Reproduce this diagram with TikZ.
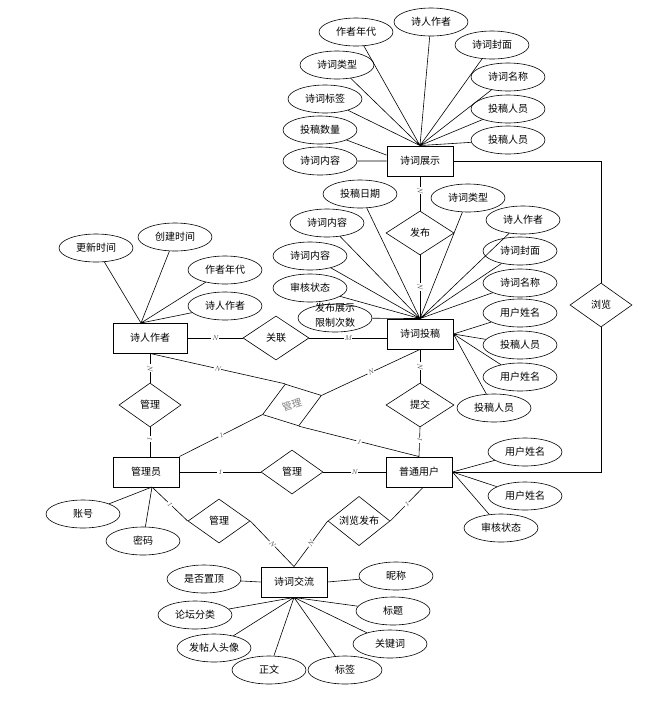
\documentclass[tikz,border=0pt]{standalone}
\usepackage{fontspec}
\newfontfamily\cjk{Noto Sans CJK SC}
\usetikzlibrary{shapes.geometric}

\begin{document}
\begin{tikzpicture}[
    x=1pt, y=-1pt,
    every node/.style={font=\cjk\fontsize{10}{12}\selectfont},
    entity/.style={draw, line width=0.9pt, minimum width=66pt, minimum height=30pt, inner sep=1pt},
    attr/.style={draw, line width=0.6pt, ellipse, minimum width=74pt, minimum height=28pt, inner sep=0pt},
    relation/.style={draw, line width=0.6pt, diamond, minimum width=62pt, minimum height=44pt, inner sep=0pt},
    card/.style={font=\itshape\scriptsize, text=black!70, fill=white, inner sep=0.6pt, sloped, midway},
    link/.style={line width=0.6pt}
  ]
    \useasboundingbox (0,0) rectangle (662,702);

    % entities
    \node[entity] (show) at (420,161) {诗词展示};
    \node[entity] (sub) at (420,334) {诗词投稿};
    \node[entity, minimum width=74pt] (poet) at (150,338) {诗人作者};
    \node[entity] (admin) at (146,472) {管理员};
    \node[entity] (user) at (419,472) {普通用户};
    \node[entity] (forum) at (294,582) {诗词交流};

    % relations
    \node[relation, minimum width=68pt] (pub) at (420,233) {发布};
    \node[relation, minimum width=66pt] (assoc) at (276,338) {关联};
    \node[relation] (mgrA) at (150,405) {管理};
    \node[relation, rotate=18, text=gray] (mgrB) at (292,405) {管理};
    \node[relation, minimum width=68pt] (submit) at (420,405) {提交};
    \node[relation] (mgrC) at (292,472) {管理};
    \node[relation] (mgrD) at (219,521) {管理};
    \node[relation] (view) at (359,521) {浏览发布};
    \node[relation] (browse) at (601,305) {浏览};

    % attributes of 诗词展示
    \node[attr] (s1) at (356,32) {作者年代};
    \node[attr] (s2) at (431,22) {诗人作者};
    \node[attr] (s3) at (492,45) {诗词封面};
    \node[attr] (s4) at (508,77) {诗词名称};
    \node[attr] (s5) at (508,109) {投稿人员};
    \node[attr] (s6) at (508,140) {投稿人员};
    \node[attr] (s7) at (337,65) {诗词类型};
    \node[attr] (s8) at (325,99) {诗词标签};
    \node[attr] (s9) at (320,130) {投稿数量};
    \node[attr] (s10) at (320,161) {诗词内容};

    % attributes of 诗词投稿
    \node[attr] (t1) at (360,194) {投稿日期};
    \node[attr] (t2) at (468,198) {诗词类型};
    \node[attr] (t3) at (523,220) {诗人作者};
    \node[attr] (t4) at (520,251) {诗词封面};
    \node[attr] (t5) at (520,283) {诗词名称};
    \node[attr] (t6) at (520,313) {用户姓名};
    \node[attr] (t7) at (520,345) {投稿人员};
    \node[attr] (t8) at (520,377) {用户姓名};
    \node[attr] (t9) at (494,408) {投稿人员};
    \node[attr] (t10) at (327,223) {诗词内容};
    \node[attr] (t11) at (310,256) {诗词内容};
    \node[attr] (t12) at (310,288) {审核状态};
    \node[attr] (t13) at (335,318) {\smash{\fontsize{10}{15}\selectfont\begin{tabular}{@{}c@{}}发布展示\\限制次数\end{tabular}}};

    % attributes of 诗人作者
    \node[attr] (p1) at (96,248) {更新时间};
    \node[attr] (p2) at (175,237) {创建时间};
    \node[attr] (p3) at (225,270) {作者年代};
    \node[attr] (p4) at (225,306) {诗人作者};
    \coordinate (poetTop) at (141,323);

    % attributes of 管理员
    \node[attr] (a1) at (83,514) {账号};
    \node[attr] (a2) at (143,541) {密码};
    \coordinate (adminBot) at (152,487);

    % attributes of 普通用户
    \node[attr] (u1) at (525,452) {用户姓名};
    \node[attr] (u2) at (525,496) {用户姓名};
    \node[attr] (u3) at (501,528) {审核状态};

    % attributes of 诗词交流
    \node[attr] (f1) at (396,576) {昵称};
    \node[attr] (f2) at (393,611) {标题};
    \node[attr] (f3) at (390,644) {关键词};
    \node[attr] (f4) at (345,670) {标签};
    \node[attr] (f5) at (269,670) {正文};
    \node[attr] (f6) at (214,648) {发帖人头像};
    \node[attr] (f7) at (195,615) {论坛分类};
    \node[attr] (f8) at (204,579) {是否置顶};

    % attribute links
    \draw[link] (s1) -- (show.north) (s2) -- (show.north) (s3) -- (show.north)
      (s4) -- (show.north) (s5) -- (show.north) (s6) -- (show.north)
      (s7) -- (show.north) (s8) -- (show.north) (s9) -- (show.170) (s10) -- (show.west);
    \draw[link] (t1) -- (sub.north) (t2) -- (sub.north) (t3) -- (sub.north)
      (t4) -- (sub.north) (t5) -- (sub.north) (t10) -- (sub.north)
      (t11) -- (sub.north) (t12) -- (sub.north) (t13) -- (sub.north)
      (t6) -- (sub.east) (t7) -- (sub.east) (t8) -- (sub.east) (t9) -- (sub.east);
    \draw[link] (p1) -- (poetTop) (p2) -- (poetTop) (p3) -- (poetTop) (p4) -- (poetTop);
    \draw[link] (a1) -- (adminBot) (a2) -- (adminBot);
    \draw[link] (u1) -- (user.east) (u2) -- (user.east) (u3) -- (user.east);
    \draw[link] (f1) -- (forum.east) (f8) -- (forum.west)
      (f2) -- (forum.south) (f3) -- (forum.south) (f4) -- (forum.south)
      (f5) -- (forum.south) (f6) -- (forum.south) (f7) -- (forum.south);

    % relation links
    \draw[link] (show.south) -- node[card, pos=0.4] {N} (pub.north);
    \draw[link] (pub.south) -- node[card] {N} (sub.north);
    \draw[link] (poet.east) -- node[card] {N} (assoc.west);
    \draw[link] (assoc.east) -- node[card] {M} (assoc.east -| sub.west);
    \draw[link] (poet.south) -- node[card] {N} (mgrA.north);
    \draw[link] (mgrA.south) -- node[card, pos=0.4] {1} (mgrA.south |- admin.north);
    \draw[link] (poet.south) -- node[card] {N} (mgrB.north);
    \draw[link] (mgrB.east) -- node[card] {N} (sub.south);
    \draw[link] (admin.north east) -- node[card] {1} (mgrB.west);
    \draw[link] (mgrB.south) -- node[card] {1} (user.north);
    \draw[link] (sub.south) -- node[card] {N} (submit.north);
    \draw[link] (submit.south) -- node[card, pos=0.45] {1} (user.north);
    \draw[link] (admin.east) -- node[card] {1} (mgrC.west);
    \draw[link] (mgrC.east) -- node[card] {N} (user.west);
    \draw[link] (adminBot) -- node[card] {1} (mgrD.west);
    \draw[link] (mgrD.east) -- node[card] {N} (forum.north);
    \draw[link] ([xshift=4pt]user.south) -- node[card] {1} (view.east);
    \draw[link] (view.west) -- node[card] {N} (forum.north);
    \draw[link] (show.east) -| (browse.north);
    \draw[link] (browse.south) |- (user.east);
  \end{tikzpicture}
\end{document}
